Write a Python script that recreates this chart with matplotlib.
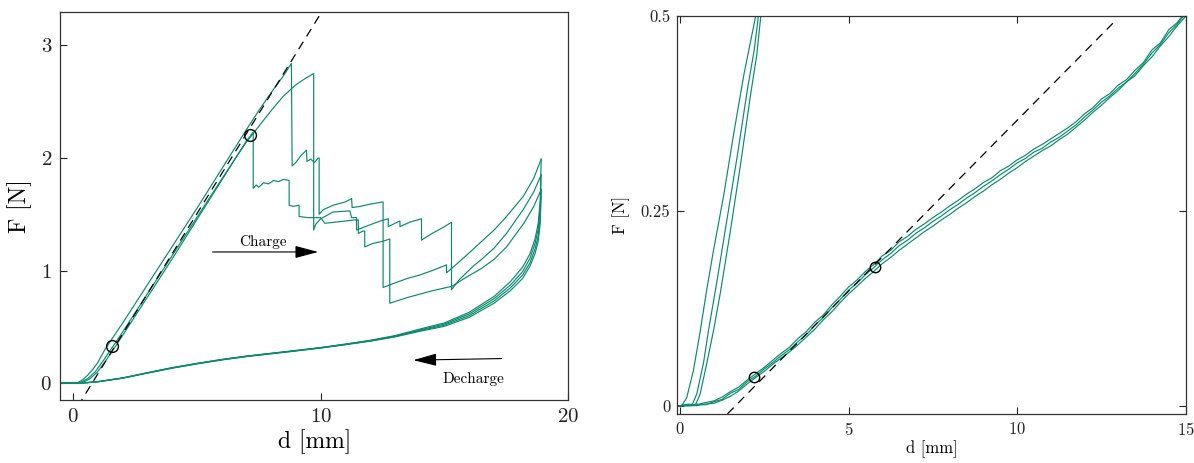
import matplotlib
matplotlib.use("Agg")
import matplotlib.pyplot as plt

plt.rcParams['font.family'] = ['cmr10', 'DejaVu Serif']
plt.rcParams['mathtext.fontset'] = 'cm'
plt.rcParams['axes.formatter.use_mathtext'] = True
plt.rcParams['axes.unicode_minus'] = False

GREEN = '#0a8a6e'

# ---------------- Left panel data (full cycle) ----------------
chargeA_d = [-0.5, 0.0, 0.2, 0.4, 0.6, 0.8, 1.0, 1.3, 1.6, 2.0, 3.0, 4.0, 5.0, 6.0, 7.0, 7.5, 8.0, 8.5, 8.82,
             8.85, 9.0, 9.2, 9.43, 9.45, 9.6, 9.75, 9.9, 9.94, 9.94, 10.1, 10.5, 11.0, 11.25, 11.27, 11.6, 12.0,
             12.52, 12.52, 13.0, 13.5, 14.0, 14.5, 15.08, 15.08, 15.5, 16.16, 16.5, 17.0, 17.5, 18.18, 18.6, 18.9]
chargeA_F = [0, 0, 0.005, 0.03, 0.07, 0.12, 0.18, 0.3, 0.4, 0.53, 0.87, 1.21, 1.55, 1.9, 2.25, 2.42, 2.58, 2.73, 2.84,
             1.93, 1.96, 2.02, 2.07, 1.97, 1.99, 1.96, 2.0, 2.0, 1.50, 1.54, 1.58, 1.61, 1.64, 1.56, 1.57, 1.59,
             1.61, 0.85, 0.89, 0.93, 0.96, 1.0, 1.05, 0.98, 1.06, 1.19, 1.26, 1.36, 1.48, 1.66, 1.82, 1.99]

chargeB_d = [-0.5, 0.0, 0.3, 0.6, 0.9, 1.2, 1.6, 2.0, 3.0, 4.0, 5.0, 6.0, 6.6, 7.0, 7.5, 8.0, 8.5, 9.0, 9.4, 9.72,
             9.72, 9.8, 10.0, 10.5, 11.18, 11.25, 11.45, 11.45, 11.8, 12.4, 12.73, 12.73, 13.0, 13.2, 13.2, 13.6,
             14.07, 14.07, 14.5, 15.0, 15.28, 15.28, 15.6, 16.16, 16.5, 17.0, 17.5, 18.2, 18.6, 18.9]
chargeB_F = [0, 0, 0.005, 0.04, 0.1, 0.19, 0.32, 0.45, 0.79, 1.13, 1.47, 1.81, 2.01, 2.14, 2.28, 2.42, 2.55, 2.65, 2.71, 2.75,
             1.36, 1.41, 1.46, 1.52, 1.53, 1.47, 1.47, 1.36, 1.39, 1.44, 1.46, 1.39, 1.42, 1.44, 1.39, 1.43,
             1.46, 1.27, 1.33, 1.39, 1.43, 0.83, 0.92, 1.04, 1.10, 1.20, 1.33, 1.55, 1.70, 1.85]

chargeC_d = [-0.5, 0.0, 0.4, 0.7, 1.0, 1.3, 1.7, 2.0, 3.0, 4.0, 5.0, 6.0, 7.0, 7.28, 7.28, 7.4, 7.5, 7.7, 7.9, 8.1,
             8.3, 8.5, 8.73, 8.73, 8.9, 9.13, 9.13, 9.5, 10.0, 10.17, 10.6, 11.0, 11.38, 11.52, 11.52, 11.7, 11.78,
             11.78, 12.1, 12.5, 12.79, 12.79, 13.5, 14.5, 15.3, 15.8, 16.5, 17.0, 17.5, 18.2, 18.6, 18.9]
chargeC_F = [0, 0, 0.005, 0.04, 0.1, 0.19, 0.32, 0.42, 0.76, 1.1, 1.45, 1.8, 2.15, 2.23, 1.73, 1.76, 1.74, 1.78, 1.77, 1.8,
             1.79, 1.81, 1.8, 1.58, 1.57, 1.58, 1.48, 1.47, 1.47, 1.42, 1.43, 1.44, 1.45, 1.45, 1.33, 1.35, 1.35,
             1.21, 1.24, 1.26, 1.28, 0.71, 0.76, 0.82, 0.86, 0.93, 1.02, 1.10, 1.21, 1.42, 1.57, 1.72]

unload_d = [18.9, 18.86, 18.78, 18.65, 18.45, 18.15, 17.65, 17.0, 16.0, 15.0, 14.0, 13.0, 12.0, 11.0, 10.0,
            9.0, 8.0, 7.0, 6.0, 5.0, 4.0, 3.0, 2.0, 1.0, 0.5, 0.0, -0.5]
unload1_F = [1.99, 1.62, 1.42, 1.28, 1.15, 1.03, 0.90, 0.77, 0.63, 0.535, 0.48, 0.422, 0.38, 0.347, 0.316,
             0.29, 0.265, 0.24, 0.21, 0.175, 0.137, 0.092, 0.046, 0.013, 0.003, 0, 0]
unload2_F = [1.85, 1.55, 1.37, 1.24, 1.11, 0.99, 0.87, 0.75, 0.615, 0.525, 0.472, 0.418, 0.378, 0.345, 0.315,
             0.289, 0.264, 0.239, 0.209, 0.174, 0.136, 0.091, 0.045, 0.012, 0.003, 0, 0]
unload3_F = [1.72, 1.47, 1.31, 1.19, 1.07, 0.96, 0.845, 0.73, 0.60, 0.515, 0.466, 0.414, 0.375, 0.343, 0.313,
             0.287, 0.262, 0.237, 0.207, 0.172, 0.134, 0.089, 0.044, 0.012, 0.003, 0, 0]
unload4_F = [1.72, 1.42, 1.26, 1.15, 1.04, 0.93, 0.82, 0.71, 0.585, 0.505, 0.46, 0.41, 0.372, 0.341, 0.311,
             0.285, 0.26, 0.235, 0.205, 0.17, 0.132, 0.088, 0.043, 0.011, 0.002, 0, 0]

left_circles_d = [1.6, 7.14]
left_circles_F = [0.33, 2.2]
left_fit_slope = 0.356
left_fit_d0 = 0.78
left_fit_range = [0.2, 10.3]

# ---------------- Right panel data (zoom on low forces) ----------------
rcharge1_d = [-0.05, 0.05, 0.2, 0.4, 0.6, 0.8, 1.0, 1.3, 1.6, 1.9, 2.1, 2.25, 2.3]
rcharge1_F = [0, 0, 0.01, 0.045, 0.095, 0.15, 0.2, 0.27, 0.35, 0.425, 0.468, 0.5, 0.515]
rcharge2_d = [-0.05, 0.35, 0.5, 0.7, 0.85, 1.1, 1.4, 1.7, 2.0, 2.2, 2.33, 2.38]
rcharge2_F = [0, 0, 0.015, 0.055, 0.097, 0.16, 0.24, 0.32, 0.405, 0.455, 0.5, 0.515]
rcharge3_d = [-0.05, 0.45, 0.6, 0.8, 1.0, 1.2, 1.5, 1.8, 2.1, 2.28, 2.40, 2.45]
rcharge3_F = [0, 0, 0.015, 0.055, 0.097, 0.145, 0.225, 0.31, 0.4, 0.45, 0.5, 0.515]

rdis_d = [0, .25, .5, .75, 1, 1.25, 1.5, 1.75, 2, 2.25, 2.5, 2.75, 3, 3.25, 3.5, 3.75, 4, 4.25, 4.5, 4.75,
          5, 5.25, 5.5, 5.75, 6, 6.25, 6.5, 6.75, 7, 7.25, 7.5, 7.75, 8, 8.25, 8.5, 8.75, 9, 9.25, 9.5, 9.75,
          10, 10.25, 10.5, 10.75, 11, 11.25, 11.5, 11.75, 12, 12.25, 12.5, 12.75, 13, 13.25, 13.5, 13.75,
          14, 14.25, 14.5, 14.75, 15]
rdis1_F = [0, 0.002, 0.001, 0.004, 0.006, 0.011, 0.018, 0.024, 0.033, 0.041, 0.049, 0.058, 0.067, 0.075, 0.086,
           0.095, 0.107, 0.116, 0.129, 0.140, 0.152, 0.161, 0.172, 0.181, 0.192, 0.199, 0.210, 0.217, 0.226, 0.233,
           0.241, 0.248, 0.256, 0.263, 0.271, 0.278, 0.286, 0.292, 0.301, 0.307, 0.315, 0.321, 0.329, 0.335, 0.342,
           0.349, 0.356, 0.364, 0.374, 0.382, 0.393, 0.400, 0.411, 0.418, 0.430, 0.440, 0.456, 0.465, 0.482, 0.491, 0.505]
rdis2_F = [0, 0.000, 0.002, 0.001, 0.005, 0.008, 0.016, 0.021, 0.031, 0.038, 0.047, 0.055, 0.064, 0.072, 0.082,
           0.091, 0.103, 0.113, 0.125, 0.136, 0.148, 0.157, 0.168, 0.177, 0.187, 0.195, 0.205, 0.212, 0.221, 0.228,
           0.236, 0.243, 0.251, 0.258, 0.266, 0.273, 0.281, 0.288, 0.296, 0.303, 0.311, 0.317, 0.325, 0.330, 0.338,
           0.344, 0.352, 0.360, 0.370, 0.379, 0.389, 0.397, 0.407, 0.415, 0.426, 0.438, 0.452, 0.463, 0.478, 0.489, 0.503]
rdis3_F = [0, 0.001, 0.000, 0.002, 0.003, 0.007, 0.012, 0.019, 0.028, 0.036, 0.044, 0.053, 0.061, 0.069, 0.078,
           0.088, 0.098, 0.110, 0.120, 0.132, 0.143, 0.153, 0.163, 0.172, 0.182, 0.190, 0.199, 0.207, 0.215, 0.223,
           0.230, 0.238, 0.245, 0.253, 0.260, 0.268, 0.275, 0.283, 0.290, 0.298, 0.305, 0.313, 0.320, 0.327, 0.333,
           0.341, 0.348, 0.357, 0.366, 0.376, 0.385, 0.395, 0.404, 0.415, 0.423, 0.436, 0.447, 0.461, 0.473, 0.487, 0.499]

right_circles_d = [2.2, 5.8]
right_circles_F = [0.037, 0.178]
right_fit_slope = 0.0438
right_fit_d0 = 1.65
right_fit_range = [1.41, 12.95]

left_xticks = [0, 10, 20]
left_yticks = [0, 1, 2, 3]
right_xticks = [0, 5, 10, 15]
right_yticks = [0, 0.25, 0.5]
right_ytick_labels = ['0', '0.25', '0.5']

# ---------------- Figure ----------------
fig = plt.figure(figsize=(11.94, 4.63), dpi=100)
axL = fig.add_axes([0.0506, 0.1361, 0.4255, 0.8387])
axR = fig.add_axes([0.5672, 0.1060, 0.4258, 0.8603])

lw = 0.85
for d, F in [(chargeA_d, chargeA_F), (chargeB_d, chargeB_F), (chargeC_d, chargeC_F)]:
    axL.plot(d, F, color=GREEN, lw=lw)
for F in [unload1_F, unload2_F, unload3_F, unload4_F]:
    axL.plot(unload_d, F, color=GREEN, lw=lw)

fx = left_fit_range
axL.plot(fx, [left_fit_slope * (x - left_fit_d0) for x in fx], color='k', lw=0.9, linestyle=(0, (7, 5)))
axL.plot(left_circles_d, left_circles_F, 'o', mfc='none', mec='k', ms=8.5, mew=1.0)

arrow_style = '-|>,head_length=1.2,head_width=0.32'
axL.annotate('', xy=(9.9, 1.165), xytext=(5.64, 1.165),
             arrowprops=dict(arrowstyle=arrow_style, color='k', lw=0.8, mutation_scale=12,
                             shrinkA=0, shrinkB=0))
axL.text(7.68, 1.25, 'Charge', ha='center', va='center', fontsize=11)
axL.annotate('', xy=(13.74, 0.204), xytext=(17.3, 0.218),
             arrowprops=dict(arrowstyle=arrow_style, color='k', lw=0.8, mutation_scale=12,
                             shrinkA=0, shrinkB=0))
axL.text(16.15, 0.035, 'Decharge', ha='center', va='center', fontsize=11)

axL.set_xlim(-0.5, 20)
axL.set_ylim(-0.15, 3.3)
axL.set_xticks(left_xticks)
axL.set_yticks(left_yticks)
axL.tick_params(direction='in', length=5, width=0.8, labelsize=15, pad=6, colors='#222222')
axL.set_xlabel('d [mm]', fontsize=17, labelpad=2)
axL.set_ylabel('F [N]', fontsize=17, labelpad=6)

for d, F in [(rcharge1_d, rcharge1_F), (rcharge2_d, rcharge2_F), (rcharge3_d, rcharge3_F)]:
    axR.plot(d, F, color=GREEN, lw=lw)
for F in [rdis1_F, rdis2_F, rdis3_F]:
    axR.plot(rdis_d, F, color=GREEN, lw=lw)
rx = right_fit_range
axR.plot(rx, [right_fit_slope * (x - right_fit_d0) for x in rx], color='k', lw=0.9, linestyle=(0, (7, 5)))
axR.plot(right_circles_d, right_circles_F, 'o', mfc='none', mec='k', ms=7.5, mew=1.0)

axR.set_xlim(-0.08, 15)
axR.set_ylim(-0.0106, 0.5)
axR.set_xticks(right_xticks)
axR.set_yticks(right_yticks)
axR.set_yticklabels(right_ytick_labels)
axR.tick_params(direction='in', length=5, width=0.8, labelsize=12, pad=5, top=True, right=True, colors='#222222')
axR.set_xlabel('d [mm]', fontsize=12, labelpad=2)
axR.set_ylabel('F [N]', fontsize=12, labelpad=8)

for ax in (axL, axR):
    for s in ax.spines.values():
        s.set_linewidth(0.9)
        s.set_color('#333333')

fig.savefig('out.png', dpi=100)
